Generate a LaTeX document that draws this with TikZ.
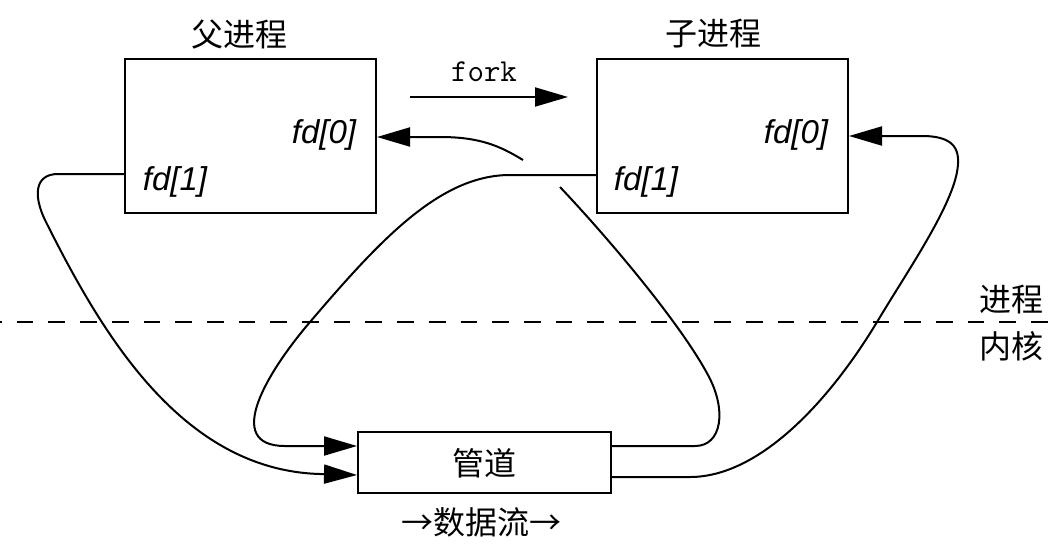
\documentclass[tikz,border=0pt]{standalone}
\usepackage{fontspec}
\setmainfont{Liberation Sans}
\newfontfamily\cjkfont{Noto Sans CJK SC}
\usetikzlibrary{arrows.meta}
\begin{document}
\begin{tikzpicture}[x=1pt,y=-1pt,line width=2pt,
  box/.style={draw,rectangle,inner sep=0pt},
  cjklbl/.style={font=\cjkfont\fontsize{32}{36}\selectfont,inner sep=0pt},
  fdlbl/.style={font=\itshape\fontsize{33}{36}\selectfont,inner sep=0pt},
  codelbl/.style={font=\ttfamily\fontsize{32}{34}\selectfont,inner sep=0pt},
  arr/.style={-{Triangle[length=33pt,width=19pt]}},
  divider/.style={dash pattern=on 16.7pt off 15pt,dash phase=15pt}
]
\useasboundingbox (0,0) rectangle (1064,552);

% boxes
\node[box,minimum width=251pt,minimum height=154pt] (parent) at (250.5,136) {};
\node[box,minimum width=251pt,minimum height=154pt] (child) at (722.5,136) {};
\node[box,minimum width=253pt,minimum height=61pt] (pipe) at (484.5,462.5) {};

% titles and labels
\node[cjklbl] (ptitle) at (239,34) {父进程};
\node[cjklbl] (ctitle) at (713,34) {子进程};
\node[cjklbl] (pipetxt) at (484.5,463) {管道};
\node[cjklbl] (flow) at (481,522) {→数据流→};
\node[cjklbl] (upper) at (1011,300) {进程};
\node[cjklbl] (lower) at (1011,346) {内核};
\node[fdlbl] (pfd0) at (324,135) {fd[0]};
\node[fdlbl] (pfd1) at (175,182) {fd[1]};
\node[fdlbl] (cfd0) at (796,135) {fd[0]};
\node[fdlbl] (cfd1) at (646,182) {fd[1]};
\node[codelbl] (forklbl) at (484,72) {fork};

% fork arrow
\coordinate (fa) at (410,97);
\coordinate (fb) at (568,97);
\draw[arr] (fa) -- (fb);

% parent fd[1] -> pipe (lower)
\draw[arr] ([yshift=-38pt]parent.west) -- (58,174)
  .. controls (35,174) and (33,195) .. (45,220)
  .. controls (100,330) and (180,470) .. (320,474)
  -- ([yshift=-12.5pt]pipe.west);

% child fd[1] -> pipe (upper)
\draw[arr] ([yshift=-39pt]child.west) -- (510,175)
  .. controls (440,175) and (380,240) .. (310,322)
  .. controls (268,371) and (222,446) .. (285,446)
  -- ([yshift=16.5pt]pipe.west);

% pipe (upper) -> parent fd[0], broken where it passes under
\coordinate (gapA) at (560,187);
\coordinate (gapB) at (523,160);
\draw ([yshift=16.5pt]pipe.east) -- (695,446)
  .. controls (722,446) and (727,410) .. (708,375)
  .. controls (680,323) and (610,240) .. (gapA);
\draw[arr] (gapB) .. controls (500,146) and (480,137) .. (440,137)
  -- ([yshift=-1pt]parent.east);

% pipe (lower) -> child fd[0]
\draw[arr] ([yshift=-14.5pt]pipe.east) -- (690,477)
  .. controls (760,477) and (830,400) .. (877,322)
  .. controls (905,275) and (950,210) .. (957,172)
  .. controls (961,150) and (955,137) .. (925,136)
  -- ([yshift=0pt]child.east);

% process / kernel divider
\coordinate (dl) at (0,322);
\coordinate (dr) at (1048,322);
\draw[divider] (dl) -- (dr);
\end{tikzpicture}
\end{document}
